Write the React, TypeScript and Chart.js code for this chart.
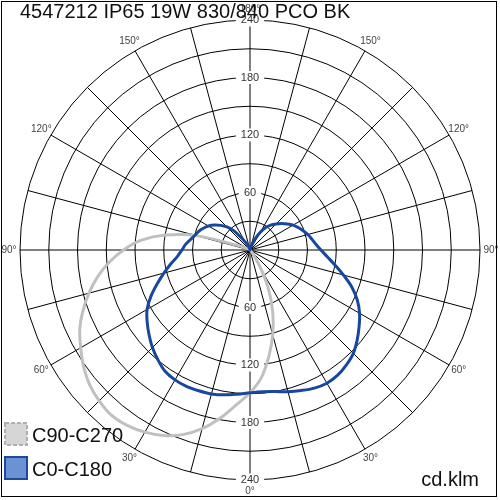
import { useEffect, useRef } from 'react';
import { Chart, registerables } from 'chart.js';

Chart.register(...registerables);

const TITLE = '4547212 IP65 19W 830/840 PCO BK';
const UNIT = 'cd.klm';
const FONT = '"Liberation Sans", Arial, sans-serif';

// gamma angles (degrees from nadir) at which intensities are read
const GAMMA = [0, 5, 10, 15, 20, 25, 30, 35, 40, 45, 50, 55, 60, 65, 70, 75, 80, 85, 90,
  95, 100, 105, 110, 115, 120, 125, 130, 135, 140, 145, 150, 155, 160, 165, 170, 175, 180];

// C0-C180 plane (blue): right half and left half, cd/klm
const C0 = [149, 148.5, 150, 153, 156, 159, 160.5, 159.5, 156.5, 152.5, 146, 139, 132, 123.5, 113, 101, 90, 81, 74,
  69, 65.5, 62.5, 59, 55.5, 52, 47.5, 43, 38.5, 34, 29, 21, 13, 7, 3, 1, 0, 0];
const C180 = [149, 151, 153.5, 155.5, 156.3, 157, 156.5, 154.5, 149.5, 144, 137.5, 131, 124, 114, 103, 93, 84, 76, 71,
  67.5, 63, 59.5, 57, 53.7, 50, 45.5, 40, 34, 26, 15, 9, 5, 3, 1.5, 0.5, 0, 0];

// C90-C270 plane (grey): right half and left half, cd/klm
const C90 = [149, 134, 113, 91.5, 69.5, 46.5, 24, 8, 2, 0.5, 0, 0, 0, 0, 0, 0, 0, 0, 0,
  0, 0, 0, 0, 0, 0, 0, 0, 0, 0, 0, 0, 0, 0, 0, 0, 0, 0];
const C270 = [149, 162, 178, 193, 205, 213.5, 219.5, 223.5, 225, 222.5, 218.5, 212, 204, 196, 185.5, 174, 161.5, 147.5, 132,
  114.5, 89.5, 58, 14, 5, 2, 1, 0, 0, 0, 0, 0, 0, 0, 0, 0, 0, 0];

const SERIES_NAMES = ['C90-C270', 'C0-C180'];
const R_MIN = 0;
const R_MAX = 240;
const R_STEP = 30;
const LABELED_TICKS = [60, 120, 180, 240];
const DEGREE_LABELS = [0, 30, 60, 90, 120, 150, 180];

const N = GAMMA.length - 1; // 36 steps per half

// index k goes clockwise from the top (gamma 180) down the right side to the bottom (gamma 0), then up the left side
function aroundLabels(): number[] {
  const out: number[] = [];
  for (let k = 0; k < 2 * N; k++) out.push(k <= N ? GAMMA[N - k] : GAMMA[k - N]);
  return out;
}
function around(right: number[], left: number[]): number[] {
  const out: number[] = [];
  for (let k = 0; k < 2 * N; k++) out.push(k <= N ? right[N - k] : left[k - N]);
  return out;
}

const GREY_LINE = 'rgb(192,192,192)';
const BLUE_LINE = 'rgb(24,72,158)';

const decor = {
  id: 'decor',
  beforeDraw(chart: any) {
    const ctx = chart.ctx;
    ctx.save();
    ctx.fillStyle = '#fff';
    ctx.fillRect(0, 0, chart.width, chart.height);
    ctx.restore();
  },
  beforeDatasetsDraw(chart: any) {
    const scale = chart.scales.r;
    const ctx = chart.ctx;
    ctx.save();
    ctx.font = `11px ${FONT}`;
    ctx.textAlign = 'center';
    ctx.textBaseline = 'middle';
    LABELED_TICKS.forEach((v) => {
      const d = scale.getDistanceFromCenterForValue(v);
      const x = scale.xCenter;
      const y = scale.yCenter + d;
      const label = String(v);
      const w = ctx.measureText(label).width;
      ctx.fillStyle = '#fff';
      ctx.fillRect(x - w / 2 - 5, y - 11 / 2 - 1, w + 10, 11 + 2);
      ctx.fillStyle = '#333';
      ctx.fillText(label, x, y);
    });
    ctx.restore();
  },
  afterDraw(chart: any) {
    const scale = chart.scales.r;
    const ctx = chart.ctx;
    const labels: number[] = chart.data.labels;
    ctx.save();
    // degree labels around the outside
    ctx.font = `10px ${FONT}`;
    ctx.fillStyle = '#444';
    ctx.textAlign = 'center';
    ctx.textBaseline = 'middle';
    labels.forEach((g, k) => {
      if (!DEGREE_LABELS.includes(g)) return;
      const p = scale.getPointPosition(k, scale.drawingArea + 11);
      ctx.fillText(`${g}°`, p.x, p.y);
    });

    // title
    ctx.font = `20px ${FONT}`;
    ctx.fillStyle = '#111';
    ctx.textAlign = 'left';
    ctx.textBaseline = 'alphabetic';
    ctx.fillText(TITLE, 20, 18);

    // unit
    ctx.textAlign = 'right';
    ctx.fillText(UNIT, 479, 486);

    // legend
    const ds = chart.data.datasets;
    const rows = [ds[0], ds[1]];
    rows.forEach((d: any, i: number) => {
      const y = 423 + i * 34;
      ctx.save();
      ctx.fillStyle = d.legendFill;
      ctx.fillRect(5, y, 22, 22);
      ctx.strokeStyle = d.legendBorder;
      ctx.lineWidth = 2;
      if (d.legendDash) ctx.setLineDash(d.legendDash);
      ctx.strokeRect(5, y, 22, 22);
      ctx.restore();
      ctx.font = `20px ${FONT}`;
      ctx.fillStyle = '#111';
      ctx.textAlign = 'left';
      ctx.textBaseline = 'alphabetic';
      ctx.fillText(d.label, 32, y + 19);
    });

    // frame
    ctx.strokeStyle = '#000';
    ctx.lineWidth = 1;
    ctx.setLineDash([]);
    ctx.strokeRect(1.5, 1.5, 495, 495);
    ctx.restore();
  },
};

export default function App() {
  const ref = useRef<HTMLCanvasElement>(null);
  useEffect(() => {
    const chart = new Chart(ref.current as HTMLCanvasElement, {
      type: 'radar',
      data: {
        labels: aroundLabels(),
        datasets: [
          {
            label: SERIES_NAMES[0],
            data: around(C90, C270),
            borderColor: GREY_LINE,
            borderWidth: 3,
            fill: false,
            order: 1,
            legendFill: 'rgb(214,214,214)',
            legendBorder: 'rgb(175,175,175)',
            legendDash: [4, 2],
          } as any,
          {
            label: SERIES_NAMES[1],
            data: around(C0, C180),
            borderColor: BLUE_LINE,
            borderWidth: 3,
            fill: false,
            order: 0,
            legendFill: 'rgb(108,146,214)',
            legendBorder: 'rgb(30,72,152)',
          } as any,
        ],
      },
      options: {
        responsive: false,
        animation: false,
        devicePixelRatio: 1,
        events: [],
        layout: { padding: 13 },
        plugins: {
          legend: { display: false },
          title: { display: false },
          tooltip: { enabled: false },
        },
        elements: {
          point: { radius: 0 },
          line: { tension: 0.35, borderJoinStyle: 'round' },
        },
        scales: {
          r: {
            min: R_MIN,
            max: R_MAX,
            startAngle: 0,
            ticks: {
              stepSize: R_STEP,
              font: { size: 11, family: FONT },
              color: '#333',
              callback: (v: any) => (LABELED_TICKS.includes(Number(v)) ? String(v) : ''),
              showLabelBackdrop: (c: any) => LABELED_TICKS.includes(c.tick.value),
              backdropColor: '#fff',
              backdropPadding: { x: 5, y: 1 },
            },
            grid: { color: '#000', lineWidth: 1, circular: true },
            angleLines: {
              color: '#000',
              lineWidth: (c: any) => (c.index % 3 === 0 ? 1 : 0),
            },
            pointLabels: { display: false },
          },
        },
      } as any,
      plugins: [decor],
    });
    return () => chart.destroy();
  }, []);
  return (
    <div style={{ position: 'absolute', left: 0, top: 0, width: 500, height: 500 }}>
      <canvas ref={ref} width={500} height={500} style={{ display: 'block' }} />
    </div>
  );
}
